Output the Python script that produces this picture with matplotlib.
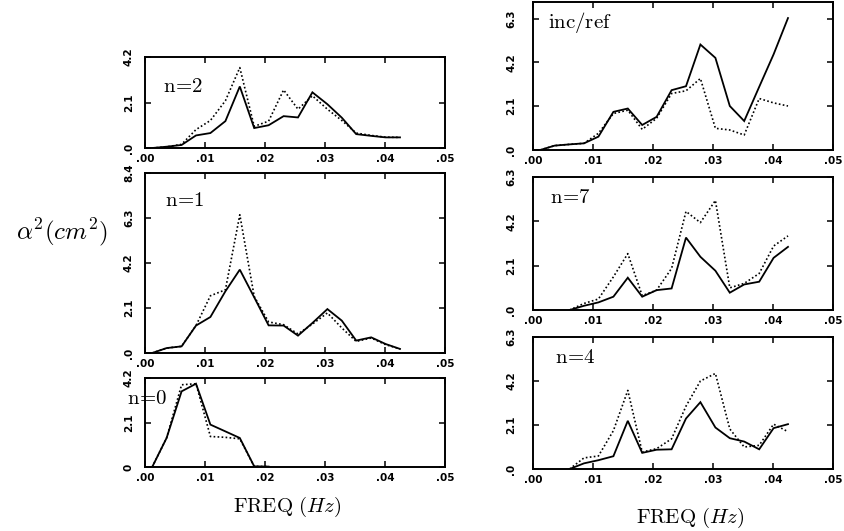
import matplotlib
matplotlib.use("Agg")
import matplotlib.pyplot as plt

plt.rcParams["mathtext.fontset"] = "cm"

W, H = 845, 531

freq = [0.0012, 0.0036, 0.0061, 0.0085, 0.0109, 0.0134, 0.0158, 0.0182, 0.0206,
        0.0231, 0.0255, 0.0279, 0.0304, 0.0328, 0.0352, 0.0377, 0.0401, 0.0425]

n2_solid = [0.0, 0.06, 0.14, 0.58, 0.69, 1.24, 2.84, 0.92, 1.05, 1.47, 1.41, 2.57, 2.02, 1.40, 0.64, 0.56, 0.49, 0.49]
n2_dot = [0.0, 0.05, 0.17, 0.85, 1.27, 2.18, 3.71, 1.00, 1.24, 2.68, 1.79, 2.41, 1.79, 1.27, 0.69, 0.58, 0.50, 0.49]

n1_solid = [0.0, 0.23, 0.31, 1.28, 1.68, 2.88, 3.89, 2.60, 1.29, 1.28, 0.81, 1.40, 2.05, 1.51, 0.58, 0.73, 0.42, 0.19]
n1_dot = [0.0, 0.23, 0.31, 1.28, 2.67, 2.95, 6.45, 2.64, 1.45, 1.32, 0.89, 1.35, 1.87, 1.17, 0.54, 0.70, 0.39, 0.19]

n0_freq = freq[:9]
n0_solid = [0.0, 1.37, 3.57, 3.93, 2.00, 1.68, 1.37, 0.03, 0.02]
n0_dot = [0.0, 1.37, 3.88, 3.93, 1.44, 1.40, 1.33, 0.03, 0.02]

ir_solid = [0.0, 0.21, 0.27, 0.32, 0.64, 1.83, 1.99, 1.20, 1.59, 2.87, 3.06, 5.06, 4.42, 2.11, 1.39, 3.03, 4.59, 6.33]
ir_dot = [0.0, 0.21, 0.27, 0.32, 0.80, 1.75, 1.91, 0.99, 1.52, 2.71, 2.84, 3.43, 1.04, 0.96, 0.72, 2.47, 2.26, 2.11]

hi_freq = freq[2:]
n7_solid = [0.0, 0.20, 0.36, 0.63, 1.53, 0.63, 0.94, 1.02, 3.43, 2.52, 1.86, 0.82, 1.21, 1.34, 2.47, 2.99]
n7_dot = [0.0, 0.31, 0.52, 1.57, 2.67, 0.68, 0.94, 1.97, 4.67, 4.14, 5.19, 1.05, 1.26, 1.73, 3.03, 3.51]

n4_solid = [0.0, 0.27, 0.42, 0.61, 2.30, 0.77, 0.92, 0.94, 2.41, 3.19, 1.98, 1.47, 1.31, 0.94, 1.95, 2.14]
n4_dot = [0.0, 0.53, 0.62, 1.83, 3.75, 0.81, 0.97, 1.44, 3.00, 4.20, 4.56, 1.91, 1.05, 1.13, 2.14, 1.78]

xticks = [0.0, 0.01, 0.02, 0.03, 0.04, 0.05]
xticklabels = [".00", ".01", ".02", ".03", ".04", ".05"]

fig = plt.figure(figsize=(W / 100, H / 100), dpi=100)


def make_ax(l, t, r, b):
    return fig.add_axes([l / W, 1 - b / H, (r - l) / W, (b - t) / H])


def style(ax, ymax, yticks, yticklabels, ypad, label, lx, ly, lsize=15):
    ax.set_xlim(0, 0.05)
    ax.set_ylim(0, ymax)
    ax.set_xticks(xticks)
    ax.set_xticklabels(xticklabels, fontsize=7.5, fontweight="bold")
    ax.set_yticks(yticks)
    ax.set_yticklabels(yticklabels, fontsize=7.5, fontweight="bold", rotation=90, va="center")
    ax.tick_params(axis="both", direction="in", top=True, right=True, length=4, width=1.1)
    ax.tick_params(axis="x", pad=4)
    ax.tick_params(axis="y", pad=ypad)
    for s in ax.spines.values():
        s.set_linewidth(1.4)
    ax.text(lx, ly, label, transform=ax.transAxes, fontsize=lsize,
            va="center", ha="left", clip_on=False)


def draw(ax, x, ys, yd):
    ax.plot(x, ys, color="black", lw=1.3, solid_joinstyle="miter")
    ax.plot(x, yd, color="black", lw=1.2, linestyle=(0, (1, 1.4)))


# left column
ax_n2 = make_ax(145, 57, 445, 148)
draw(ax_n2, freq, n2_solid, n2_dot)
style(ax_n2, 4.2, [0, 2.1, 4.2], [".0", "2.1", "4.2"], 8, r"$\mathrm{n\!=\!2}$", 0.06, 0.68)

ax_n1 = make_ax(145, 173, 445, 353)
draw(ax_n1, freq, n1_solid, n1_dot)
style(ax_n1, 8.4, [0, 2.1, 4.2, 6.3, 8.4], [".0", "2.1", "4.2", "6.3", "8.4"], 8,
      r"$\mathrm{n\!=\!1}$", 0.067, 0.85)

ax_n0 = make_ax(145, 378, 445, 467)
draw(ax_n0, n0_freq, n0_solid, n0_dot)
style(ax_n0, 4.2, [0, 2.1, 4.2], ["0", "2.1", "4.2"], 8, r"$\mathrm{n\!=\!0}$", -0.06, 0.77)

# right column
ax_ir = make_ax(533, 2, 833, 150)
draw(ax_ir, freq, ir_solid, ir_dot)
style(ax_ir, 7.1, [0, 2.1, 4.2, 6.3], [".0", "2.1", "4.2", "6.3"], 12,
      r"$\mathrm{inc/ref}$", 0.05, 0.86)

ax_n7 = make_ax(533, 177, 833, 310)
draw(ax_n7, hi_freq, n7_solid, n7_dot)
style(ax_n7, 6.3, [0, 2.1, 4.2, 6.3], [".0", "2.1", "4.2", "6.3"], 12,
      r"$\mathrm{n\!=\!7}$", 0.057, 0.85)

ax_n4 = make_ax(533, 337, 833, 469)
draw(ax_n4, hi_freq, n4_solid, n4_dot)
style(ax_n4, 6.3, [0, 2.1, 4.2, 6.3], [".0", "2.1", "4.2", "6.3"], 12,
      r"$\mathrm{n\!=\!4}$", 0.073, 0.85)

# axis titles
fig.text(287 / W, 1 - 507 / H, r"$\mathrm{FREQ}\ \mathit{(Hz)}$", fontsize=15,
         ha="center", va="center")
fig.text(690 / W, 1 - 518 / H, r"$\mathrm{FREQ}\ \mathit{(Hz)}$", fontsize=15,
         ha="center", va="center")
fig.text(62 / W, 1 - 232 / H, r"$\alpha^2(cm^2)$", fontsize=18, ha="center", va="center")

fig.savefig("out.png", dpi=100)
